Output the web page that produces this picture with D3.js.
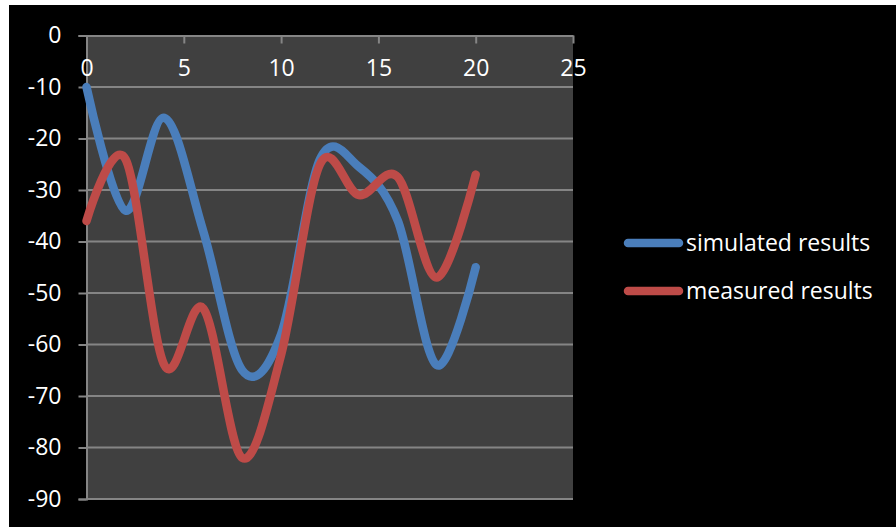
<!DOCTYPE html>
<html>
<head>
<meta charset="utf-8">
<script src="https://cdn.jsdelivr.net/npm/d3@7"></script>
<style>
  html, body { margin: 0; padding: 0; background: #ffffff; }
  svg { display: block; }
  text { font-family: "Open Sans", "Lato", sans-serif; fill: #ffffff; }
</style>
</head>
<body>
<svg id="chart" width="896" height="527"></svg>
<script>
// Sample positions and the two result series
const xValues = [0, 2, 4, 6, 8, 10, 12, 14, 16, 18, 20];
const simulated = [-10, -34, -16, -38, -65, -58, -24, -25.5, -36, -64, -45];
const measured = [-36, -24, -64, -53, -82, -62, -25, -31, -27.5, -47, -27];

const xTicks = [0, 5, 10, 15, 20, 25];
const yTicks = [0, -10, -20, -30, -40, -50, -60, -70, -80, -90];

const seriesNames = ["simulated results", "measured results"];
const seriesColors = ["#4a7ebb", "#be4b48"];

const svg = d3.select("#chart");

// black chart canvas
svg.append("rect")
  .attr("x", 9).attr("y", 5)
  .attr("width", 887).attr("height", 522)
  .attr("fill", "#000000");

const plot = { left: 86.5, right: 573, top: 35.5, bottom: 499 };

const x = d3.scaleLinear().domain([0, 25]).range([plot.left, plot.right]);
const y = d3.scaleLinear().domain([0, -90]).range([plot.top, plot.bottom]);

// plot area
svg.append("rect")
  .attr("x", plot.left).attr("y", plot.top)
  .attr("width", plot.right - plot.left)
  .attr("height", plot.bottom - plot.top)
  .attr("fill", "#404040");

const gridColor = "#858585";
const labelSize = "23px";

// horizontal gridlines
svg.append("g")
  .selectAll("line")
  .data(yTicks.filter(v => v !== 0))
  .join("line")
  .attr("x1", plot.left).attr("x2", plot.right)
  .attr("y1", d => y(d)).attr("y2", d => y(d))
  .attr("stroke", gridColor)
  .attr("stroke-width", 2);

// left value axis
const yAxis = svg.append("g")
  .attr("transform", `translate(${plot.left},0)`)
  .call(d3.axisLeft(y).tickValues(yTicks).tickSize(8).tickPadding(17)
    .tickFormat(d => d3.format("d")(d).replace("−", "-")));
yAxis.select(".domain").attr("stroke", gridColor).attr("stroke-width", 2);
yAxis.selectAll(".tick line").attr("stroke", gridColor).attr("stroke-width", 2);
yAxis.selectAll(".tick text")
  .attr("fill", "#ffffff")
  .style("font-size", labelSize)
  .style("font-family", "'Open Sans', sans-serif");

// top category axis with ticks pointing into the plot
const xAxis = svg.append("g")
  .attr("transform", `translate(0,${plot.top})`)
  .call(d3.axisBottom(x).tickValues(xTicks).tickSize(8).tickSizeOuter(0).tickPadding(16)
    .tickFormat(d3.format("d")));
xAxis.select(".domain").attr("stroke", gridColor).attr("stroke-width", 2);
xAxis.selectAll(".tick line").attr("stroke", gridColor).attr("stroke-width", 2);
xAxis.selectAll(".tick text")
  .attr("fill", "#ffffff")
  .style("font-size", labelSize)
  .style("font-family", "'Open Sans', sans-serif");

// smoothed series lines
const line = d3.line()
  .x(d => x(d[0]))
  .y(d => y(d[1]))
  .curve(d3.curveCardinal.tension(0));

[simulated, measured].forEach((vals, i) => {
  svg.append("path")
    .datum(xValues.map((xv, j) => [xv, vals[j]]))
    .attr("fill", "none")
    .attr("stroke", seriesColors[i])
    .attr("stroke-width", 8.5)
    .attr("stroke-linecap", "round")
    .attr("stroke-linejoin", "round")
    .attr("d", line);
});

// legend
const legend = svg.append("g");
seriesNames.forEach((name, i) => {
  const cy = 243 + i * 48;
  legend.append("line")
    .attr("x1", 628).attr("x2", 679)
    .attr("y1", cy).attr("y2", cy)
    .attr("stroke", seriesColors[i])
    .attr("stroke-width", 8.5)
    .attr("stroke-linecap", "round");
  legend.append("text")
    .attr("x", 686).attr("y", cy + 8)
    .style("font-size", "23px")
    .text(name);
});
</script>
</body>
</html>
